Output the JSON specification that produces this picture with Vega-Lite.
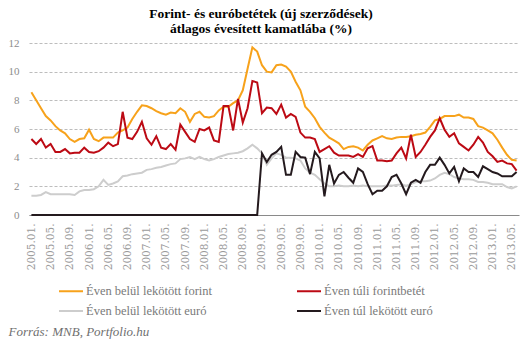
{
"$schema":"https://vega.github.io/schema/vega-lite/v6.json",
"width":490,"height":172,
"autosize":{"type":"none"},
"padding":{"left":29,"top":43,"right":12,"bottom":127},
"background":"white",
"title":{"text":["Forint- és euróbetétek  (új szerződések)","átlagos évesített  kamatlába (%)"],"font":"Liberation Serif","fontSize":13.5,"fontWeight":"bold","color":"#000000","anchor":"middle","dx":-13,"offset":2,"lineHeight":15},
"data":{"values":[
{"m":"2005.01.","s":"Éven belül lekötött forint","v":8.56},{"m":"2005.02.","s":"Éven belül lekötött forint","v":8.0},{"m":"2005.03.","s":"Éven belül lekötött forint","v":7.45},{"m":"2005.04.","s":"Éven belül lekötött forint","v":6.9},{"m":"2005.05.","s":"Éven belül lekötött forint","v":6.6},{"m":"2005.06.","s":"Éven belül lekötött forint","v":6.2},{"m":"2005.07.","s":"Éven belül lekötött forint","v":5.9},{"m":"2005.08.","s":"Éven belül lekötött forint","v":5.7},{"m":"2005.09.","s":"Éven belül lekötött forint","v":5.3},{"m":"2005.10.","s":"Éven belül lekötött forint","v":5.1},{"m":"2005.11.","s":"Éven belül lekötött forint","v":5.3},{"m":"2005.12.","s":"Éven belül lekötött forint","v":5.35},
{"m":"2006.01.","s":"Éven belül lekötött forint","v":5.95},{"m":"2006.02.","s":"Éven belül lekötött forint","v":5.3},{"m":"2006.03.","s":"Éven belül lekötött forint","v":5.15},{"m":"2006.04.","s":"Éven belül lekötött forint","v":5.4},{"m":"2006.05.","s":"Éven belül lekötött forint","v":5.4},{"m":"2006.06.","s":"Éven belül lekötött forint","v":5.4},{"m":"2006.07.","s":"Éven belül lekötött forint","v":5.75},{"m":"2006.08.","s":"Éven belül lekötött forint","v":5.9},{"m":"2006.09.","s":"Éven belül lekötött forint","v":6.1},{"m":"2006.10.","s":"Éven belül lekötött forint","v":6.7},{"m":"2006.11.","s":"Éven belül lekötött forint","v":7.2},{"m":"2006.12.","s":"Éven belül lekötött forint","v":7.65},
{"m":"2007.01.","s":"Éven belül lekötött forint","v":7.6},{"m":"2007.02.","s":"Éven belül lekötött forint","v":7.45},{"m":"2007.03.","s":"Éven belül lekötött forint","v":7.25},{"m":"2007.04.","s":"Éven belül lekötött forint","v":7.1},{"m":"2007.05.","s":"Éven belül lekötött forint","v":7.0},{"m":"2007.06.","s":"Éven belül lekötött forint","v":7.15},{"m":"2007.07.","s":"Éven belül lekötött forint","v":7.1},{"m":"2007.08.","s":"Éven belül lekötött forint","v":7.45},{"m":"2007.09.","s":"Éven belül lekötött forint","v":7.2},{"m":"2007.10.","s":"Éven belül lekötött forint","v":6.5},{"m":"2007.11.","s":"Éven belül lekötött forint","v":7.05},{"m":"2007.12.","s":"Éven belül lekötött forint","v":7.2},
{"m":"2008.01.","s":"Éven belül lekötött forint","v":6.85},{"m":"2008.02.","s":"Éven belül lekötött forint","v":6.8},{"m":"2008.03.","s":"Éven belül lekötött forint","v":6.9},{"m":"2008.04.","s":"Éven belül lekötött forint","v":7.3},{"m":"2008.05.","s":"Éven belül lekötött forint","v":7.55},{"m":"2008.06.","s":"Éven belül lekötött forint","v":7.55},{"m":"2008.07.","s":"Éven belül lekötött forint","v":7.8},{"m":"2008.08.","s":"Éven belül lekötött forint","v":8.0},{"m":"2008.09.","s":"Éven belül lekötött forint","v":8.7},{"m":"2008.10.","s":"Éven belül lekötött forint","v":10.2},{"m":"2008.11.","s":"Éven belül lekötött forint","v":11.7},{"m":"2008.12.","s":"Éven belül lekötött forint","v":11.4},
{"m":"2009.01.","s":"Éven belül lekötött forint","v":10.45},{"m":"2009.02.","s":"Éven belül lekötött forint","v":10.0},{"m":"2009.03.","s":"Éven belül lekötött forint","v":9.95},{"m":"2009.04.","s":"Éven belül lekötött forint","v":10.45},{"m":"2009.05.","s":"Éven belül lekötött forint","v":10.5},{"m":"2009.06.","s":"Éven belül lekötött forint","v":10.35},{"m":"2009.07.","s":"Éven belül lekötött forint","v":10.0},{"m":"2009.08.","s":"Éven belül lekötött forint","v":9.3},{"m":"2009.09.","s":"Éven belül lekötött forint","v":8.7},{"m":"2009.10.","s":"Éven belül lekötött forint","v":7.55},{"m":"2009.11.","s":"Éven belül lekötött forint","v":7.2},{"m":"2009.12.","s":"Éven belül lekötött forint","v":6.75},
{"m":"2010.01.","s":"Éven belül lekötött forint","v":6.15},{"m":"2010.02.","s":"Éven belül lekötött forint","v":5.75},{"m":"2010.03.","s":"Éven belül lekötött forint","v":5.4},{"m":"2010.04.","s":"Éven belül lekötött forint","v":5.2},{"m":"2010.05.","s":"Éven belül lekötött forint","v":5.0},{"m":"2010.06.","s":"Éven belül lekötött forint","v":4.6},{"m":"2010.07.","s":"Éven belül lekötött forint","v":4.75},{"m":"2010.08.","s":"Éven belül lekötött forint","v":4.8},{"m":"2010.09.","s":"Éven belül lekötött forint","v":4.7},{"m":"2010.10.","s":"Éven belül lekötött forint","v":4.5},{"m":"2010.11.","s":"Éven belül lekötött forint","v":4.9},{"m":"2010.12.","s":"Éven belül lekötött forint","v":5.2},
{"m":"2011.01.","s":"Éven belül lekötött forint","v":5.35},{"m":"2011.02.","s":"Éven belül lekötött forint","v":5.5},{"m":"2011.03.","s":"Éven belül lekötött forint","v":5.35},{"m":"2011.04.","s":"Éven belül lekötött forint","v":5.3},{"m":"2011.05.","s":"Éven belül lekötött forint","v":5.4},{"m":"2011.06.","s":"Éven belül lekötött forint","v":5.45},{"m":"2011.07.","s":"Éven belül lekötött forint","v":5.45},{"m":"2011.08.","s":"Éven belül lekötött forint","v":5.5},{"m":"2011.09.","s":"Éven belül lekötött forint","v":5.6},{"m":"2011.10.","s":"Éven belül lekötött forint","v":5.65},{"m":"2011.11.","s":"Éven belül lekötött forint","v":5.75},{"m":"2011.12.","s":"Éven belül lekötött forint","v":6.15},
{"m":"2012.01.","s":"Éven belül lekötött forint","v":6.6},{"m":"2012.02.","s":"Éven belül lekötött forint","v":6.7},{"m":"2012.03.","s":"Éven belül lekötött forint","v":6.9},{"m":"2012.04.","s":"Éven belül lekötött forint","v":6.9},{"m":"2012.05.","s":"Éven belül lekötött forint","v":6.9},{"m":"2012.06.","s":"Éven belül lekötött forint","v":7.0},{"m":"2012.07.","s":"Éven belül lekötött forint","v":6.8},{"m":"2012.08.","s":"Éven belül lekötött forint","v":6.8},{"m":"2012.09.","s":"Éven belül lekötött forint","v":6.7},{"m":"2012.10.","s":"Éven belül lekötött forint","v":6.2},{"m":"2012.11.","s":"Éven belül lekötött forint","v":6.1},{"m":"2012.12.","s":"Éven belül lekötött forint","v":5.9},
{"m":"2013.01.","s":"Éven belül lekötött forint","v":5.7},{"m":"2013.02.","s":"Éven belül lekötött forint","v":5.25},{"m":"2013.03.","s":"Éven belül lekötött forint","v":4.7},{"m":"2013.04.","s":"Éven belül lekötött forint","v":4.2},{"m":"2013.05.","s":"Éven belül lekötött forint","v":3.85},{"m":"2013.06.","s":"Éven belül lekötött forint","v":3.8},
{"m":"2005.01.","s":"Éven túli forintbetét","v":5.3},{"m":"2005.02.","s":"Éven túli forintbetét","v":4.95},{"m":"2005.03.","s":"Éven túli forintbetét","v":5.3},{"m":"2005.04.","s":"Éven túli forintbetét","v":4.7},{"m":"2005.05.","s":"Éven túli forintbetét","v":4.95},{"m":"2005.06.","s":"Éven túli forintbetét","v":4.4},{"m":"2005.07.","s":"Éven túli forintbetét","v":4.4},{"m":"2005.08.","s":"Éven túli forintbetét","v":4.6},{"m":"2005.09.","s":"Éven túli forintbetét","v":4.3},{"m":"2005.10.","s":"Éven túli forintbetét","v":4.35},{"m":"2005.11.","s":"Éven túli forintbetét","v":4.35},{"m":"2005.12.","s":"Éven túli forintbetét","v":4.7},
{"m":"2006.01.","s":"Éven túli forintbetét","v":4.4},{"m":"2006.02.","s":"Éven túli forintbetét","v":4.35},{"m":"2006.03.","s":"Éven túli forintbetét","v":4.45},{"m":"2006.04.","s":"Éven túli forintbetét","v":4.7},{"m":"2006.05.","s":"Éven túli forintbetét","v":5.05},{"m":"2006.06.","s":"Éven túli forintbetét","v":4.8},{"m":"2006.07.","s":"Éven túli forintbetét","v":4.95},{"m":"2006.08.","s":"Éven túli forintbetét","v":7.2},{"m":"2006.09.","s":"Éven túli forintbetét","v":5.4},{"m":"2006.10.","s":"Éven túli forintbetét","v":5.3},{"m":"2006.11.","s":"Éven túli forintbetét","v":5.8},{"m":"2006.12.","s":"Éven túli forintbetét","v":6.5},
{"m":"2007.01.","s":"Éven túli forintbetét","v":5.35},{"m":"2007.02.","s":"Éven túli forintbetét","v":4.9},{"m":"2007.03.","s":"Éven túli forintbetét","v":5.5},{"m":"2007.04.","s":"Éven túli forintbetét","v":4.7},{"m":"2007.05.","s":"Éven túli forintbetét","v":4.6},{"m":"2007.06.","s":"Éven túli forintbetét","v":4.95},{"m":"2007.07.","s":"Éven túli forintbetét","v":4.55},{"m":"2007.08.","s":"Éven túli forintbetét","v":6.3},{"m":"2007.09.","s":"Éven túli forintbetét","v":5.8},{"m":"2007.10.","s":"Éven túli forintbetét","v":5.3},{"m":"2007.11.","s":"Éven túli forintbetét","v":5.1},{"m":"2007.12.","s":"Éven túli forintbetét","v":6.0},
{"m":"2008.01.","s":"Éven túli forintbetét","v":5.9},{"m":"2008.02.","s":"Éven túli forintbetét","v":6.1},{"m":"2008.03.","s":"Éven túli forintbetét","v":5.2},{"m":"2008.04.","s":"Éven túli forintbetét","v":5.1},{"m":"2008.05.","s":"Éven túli forintbetét","v":7.6},{"m":"2008.06.","s":"Éven túli forintbetét","v":7.6},{"m":"2008.07.","s":"Éven túli forintbetét","v":5.9},{"m":"2008.08.","s":"Éven túli forintbetét","v":8.1},{"m":"2008.09.","s":"Éven túli forintbetét","v":6.45},{"m":"2008.10.","s":"Éven túli forintbetét","v":7.45},{"m":"2008.11.","s":"Éven túli forintbetét","v":9.35},{"m":"2008.12.","s":"Éven túli forintbetét","v":9.25},
{"m":"2009.01.","s":"Éven túli forintbetét","v":7.1},{"m":"2009.02.","s":"Éven túli forintbetét","v":7.5},{"m":"2009.03.","s":"Éven túli forintbetét","v":7.45},{"m":"2009.04.","s":"Éven túli forintbetét","v":7.05},{"m":"2009.05.","s":"Éven túli forintbetét","v":7.7},{"m":"2009.06.","s":"Éven túli forintbetét","v":6.8},{"m":"2009.07.","s":"Éven túli forintbetét","v":7.05},{"m":"2009.08.","s":"Éven túli forintbetét","v":6.85},{"m":"2009.09.","s":"Éven túli forintbetét","v":5.75},{"m":"2009.10.","s":"Éven túli forintbetét","v":5.4},{"m":"2009.11.","s":"Éven túli forintbetét","v":5.4},{"m":"2009.12.","s":"Éven túli forintbetét","v":5.3},
{"m":"2010.01.","s":"Éven túli forintbetét","v":4.4},{"m":"2010.02.","s":"Éven túli forintbetét","v":4.6},{"m":"2010.03.","s":"Éven túli forintbetét","v":4.8},{"m":"2010.04.","s":"Éven túli forintbetét","v":4.35},{"m":"2010.05.","s":"Éven túli forintbetét","v":4.15},{"m":"2010.06.","s":"Éven túli forintbetét","v":4.15},{"m":"2010.07.","s":"Éven túli forintbetét","v":4.15},{"m":"2010.08.","s":"Éven túli forintbetét","v":4.05},{"m":"2010.09.","s":"Éven túli forintbetét","v":4.25},{"m":"2010.10.","s":"Éven túli forintbetét","v":4.05},{"m":"2010.11.","s":"Éven túli forintbetét","v":4.65},{"m":"2010.12.","s":"Éven túli forintbetét","v":4.8},
{"m":"2011.01.","s":"Éven túli forintbetét","v":3.8},{"m":"2011.02.","s":"Éven túli forintbetét","v":3.8},{"m":"2011.03.","s":"Éven túli forintbetét","v":3.75},{"m":"2011.04.","s":"Éven túli forintbetét","v":3.8},{"m":"2011.05.","s":"Éven túli forintbetét","v":4.3},{"m":"2011.06.","s":"Éven túli forintbetét","v":4.7},{"m":"2011.07.","s":"Éven túli forintbetét","v":3.95},{"m":"2011.08.","s":"Éven túli forintbetét","v":5.6},{"m":"2011.09.","s":"Éven túli forintbetét","v":4.05},{"m":"2011.10.","s":"Éven túli forintbetét","v":4.4},{"m":"2011.11.","s":"Éven túli forintbetét","v":4.9},{"m":"2011.12.","s":"Éven túli forintbetét","v":5.45},
{"m":"2012.01.","s":"Éven túli forintbetét","v":5.9},{"m":"2012.02.","s":"Éven túli forintbetét","v":6.75},{"m":"2012.03.","s":"Éven túli forintbetét","v":5.95},{"m":"2012.04.","s":"Éven túli forintbetét","v":5.45},{"m":"2012.05.","s":"Éven túli forintbetét","v":5.7},{"m":"2012.06.","s":"Éven túli forintbetét","v":5.0},{"m":"2012.07.","s":"Éven túli forintbetét","v":4.75},{"m":"2012.08.","s":"Éven túli forintbetét","v":4.5},{"m":"2012.09.","s":"Éven túli forintbetét","v":4.9},{"m":"2012.10.","s":"Éven túli forintbetét","v":5.45},{"m":"2012.11.","s":"Éven túli forintbetét","v":5.05},{"m":"2012.12.","s":"Éven túli forintbetét","v":4.4},
{"m":"2013.01.","s":"Éven túli forintbetét","v":4.1},{"m":"2013.02.","s":"Éven túli forintbetét","v":3.7},{"m":"2013.03.","s":"Éven túli forintbetét","v":3.8},{"m":"2013.04.","s":"Éven túli forintbetét","v":3.6},{"m":"2013.05.","s":"Éven túli forintbetét","v":3.55},{"m":"2013.06.","s":"Éven túli forintbetét","v":3.1},
{"m":"2005.01.","s":"Éven belül lekötött euró","v":1.35},{"m":"2005.02.","s":"Éven belül lekötött euró","v":1.35},{"m":"2005.03.","s":"Éven belül lekötött euró","v":1.4},{"m":"2005.04.","s":"Éven belül lekötött euró","v":1.6},{"m":"2005.05.","s":"Éven belül lekötött euró","v":1.45},{"m":"2005.06.","s":"Éven belül lekötött euró","v":1.45},{"m":"2005.07.","s":"Éven belül lekötött euró","v":1.45},{"m":"2005.08.","s":"Éven belül lekötött euró","v":1.45},{"m":"2005.09.","s":"Éven belül lekötött euró","v":1.45},{"m":"2005.10.","s":"Éven belül lekötött euró","v":1.4},{"m":"2005.11.","s":"Éven belül lekötött euró","v":1.65},{"m":"2005.12.","s":"Éven belül lekötött euró","v":1.75},
{"m":"2006.01.","s":"Éven belül lekötött euró","v":1.75},{"m":"2006.02.","s":"Éven belül lekötött euró","v":1.8},{"m":"2006.03.","s":"Éven belül lekötött euró","v":2.0},{"m":"2006.04.","s":"Éven belül lekötött euró","v":2.45},{"m":"2006.05.","s":"Éven belül lekötött euró","v":2.1},{"m":"2006.06.","s":"Éven belül lekötött euró","v":2.2},{"m":"2006.07.","s":"Éven belül lekötött euró","v":2.35},{"m":"2006.08.","s":"Éven belül lekötött euró","v":2.7},{"m":"2006.09.","s":"Éven belül lekötött euró","v":2.75},{"m":"2006.10.","s":"Éven belül lekötött euró","v":2.85},{"m":"2006.11.","s":"Éven belül lekötött euró","v":2.9},{"m":"2006.12.","s":"Éven belül lekötött euró","v":2.95},
{"m":"2007.01.","s":"Éven belül lekötött euró","v":3.15},{"m":"2007.02.","s":"Éven belül lekötött euró","v":3.2},{"m":"2007.03.","s":"Éven belül lekötött euró","v":3.3},{"m":"2007.04.","s":"Éven belül lekötött euró","v":3.35},{"m":"2007.05.","s":"Éven belül lekötött euró","v":3.45},{"m":"2007.06.","s":"Éven belül lekötött euró","v":3.55},{"m":"2007.07.","s":"Éven belül lekötött euró","v":3.6},{"m":"2007.08.","s":"Éven belül lekötött euró","v":3.9},{"m":"2007.09.","s":"Éven belül lekötött euró","v":3.95},{"m":"2007.10.","s":"Éven belül lekötött euró","v":4.05},{"m":"2007.11.","s":"Éven belül lekötött euró","v":3.9},{"m":"2007.12.","s":"Éven belül lekötött euró","v":4.05},
{"m":"2008.01.","s":"Éven belül lekötött euró","v":3.9},{"m":"2008.02.","s":"Éven belül lekötött euró","v":3.8},{"m":"2008.03.","s":"Éven belül lekötött euró","v":3.9},{"m":"2008.04.","s":"Éven belül lekötött euró","v":4.05},{"m":"2008.05.","s":"Éven belül lekötött euró","v":4.15},{"m":"2008.06.","s":"Éven belül lekötött euró","v":4.25},{"m":"2008.07.","s":"Éven belül lekötött euró","v":4.3},{"m":"2008.08.","s":"Éven belül lekötött euró","v":4.35},{"m":"2008.09.","s":"Éven belül lekötött euró","v":4.45},{"m":"2008.10.","s":"Éven belül lekötött euró","v":4.65},{"m":"2008.11.","s":"Éven belül lekötött euró","v":4.9},{"m":"2008.12.","s":"Éven belül lekötött euró","v":4.65},
{"m":"2009.01.","s":"Éven belül lekötött euró","v":4.3},{"m":"2009.02.","s":"Éven belül lekötött euró","v":3.5},{"m":"2009.03.","s":"Éven belül lekötött euró","v":3.95},{"m":"2009.04.","s":"Éven belül lekötött euró","v":4.3},{"m":"2009.05.","s":"Éven belül lekötött euró","v":4.2},{"m":"2009.06.","s":"Éven belül lekötött euró","v":4.0},{"m":"2009.07.","s":"Éven belül lekötött euró","v":4.0},{"m":"2009.08.","s":"Éven belül lekötött euró","v":3.95},{"m":"2009.09.","s":"Éven belül lekötött euró","v":3.8},{"m":"2009.10.","s":"Éven belül lekötött euró","v":3.25},{"m":"2009.11.","s":"Éven belül lekötött euró","v":2.95},{"m":"2009.12.","s":"Éven belül lekötött euró","v":2.8},
{"m":"2010.01.","s":"Éven belül lekötött euró","v":2.5},{"m":"2010.02.","s":"Éven belül lekötött euró","v":2.2},{"m":"2010.03.","s":"Éven belül lekötött euró","v":2.0},{"m":"2010.04.","s":"Éven belül lekötött euró","v":2.0},{"m":"2010.05.","s":"Éven belül lekötött euró","v":2.05},{"m":"2010.06.","s":"Éven belül lekötött euró","v":2.0},{"m":"2010.07.","s":"Éven belül lekötött euró","v":2.0},{"m":"2010.08.","s":"Éven belül lekötött euró","v":2.05},{"m":"2010.09.","s":"Éven belül lekötött euró","v":2.0},{"m":"2010.10.","s":"Éven belül lekötött euró","v":2.05},{"m":"2010.11.","s":"Éven belül lekötött euró","v":2.0},{"m":"2010.12.","s":"Éven belül lekötött euró","v":2.0},
{"m":"2011.01.","s":"Éven belül lekötött euró","v":2.0},{"m":"2011.02.","s":"Éven belül lekötött euró","v":2.0},{"m":"2011.03.","s":"Éven belül lekötött euró","v":2.05},{"m":"2011.04.","s":"Éven belül lekötött euró","v":2.05},{"m":"2011.05.","s":"Éven belül lekötött euró","v":2.1},{"m":"2011.06.","s":"Éven belül lekötött euró","v":2.15},{"m":"2011.07.","s":"Éven belül lekötött euró","v":2.05},{"m":"2011.08.","s":"Éven belül lekötött euró","v":2.15},{"m":"2011.09.","s":"Éven belül lekötött euró","v":2.3},{"m":"2011.10.","s":"Éven belül lekötött euró","v":2.35},{"m":"2011.11.","s":"Éven belül lekötött euró","v":2.35},{"m":"2011.12.","s":"Éven belül lekötött euró","v":2.4},
{"m":"2012.01.","s":"Éven belül lekötött euró","v":2.55},{"m":"2012.02.","s":"Éven belül lekötött euró","v":2.8},{"m":"2012.03.","s":"Éven belül lekötött euró","v":2.95},{"m":"2012.04.","s":"Éven belül lekötött euró","v":2.85},{"m":"2012.05.","s":"Éven belül lekötött euró","v":2.65},{"m":"2012.06.","s":"Éven belül lekötött euró","v":2.55},{"m":"2012.07.","s":"Éven belül lekötött euró","v":2.5},{"m":"2012.08.","s":"Éven belül lekötött euró","v":2.5},{"m":"2012.09.","s":"Éven belül lekötött euró","v":2.45},{"m":"2012.10.","s":"Éven belül lekötött euró","v":2.3},{"m":"2012.11.","s":"Éven belül lekötött euró","v":2.3},{"m":"2012.12.","s":"Éven belül lekötött euró","v":2.25},
{"m":"2013.01.","s":"Éven belül lekötött euró","v":2.15},{"m":"2013.02.","s":"Éven belül lekötött euró","v":2.15},{"m":"2013.03.","s":"Éven belül lekötött euró","v":2.15},{"m":"2013.04.","s":"Éven belül lekötött euró","v":1.95},{"m":"2013.05.","s":"Éven belül lekötött euró","v":1.85},{"m":"2013.06.","s":"Éven belül lekötött euró","v":2.0},
{"m":"2005.01.","s":"Éven túl lekötött euró","v":0},{"m":"2005.02.","s":"Éven túl lekötött euró","v":0},{"m":"2005.03.","s":"Éven túl lekötött euró","v":0},{"m":"2005.04.","s":"Éven túl lekötött euró","v":0},{"m":"2005.05.","s":"Éven túl lekötött euró","v":0},{"m":"2005.06.","s":"Éven túl lekötött euró","v":0},{"m":"2005.07.","s":"Éven túl lekötött euró","v":0},{"m":"2005.08.","s":"Éven túl lekötött euró","v":0},{"m":"2005.09.","s":"Éven túl lekötött euró","v":0},{"m":"2005.10.","s":"Éven túl lekötött euró","v":0},{"m":"2005.11.","s":"Éven túl lekötött euró","v":0},{"m":"2005.12.","s":"Éven túl lekötött euró","v":0},
{"m":"2006.01.","s":"Éven túl lekötött euró","v":0},{"m":"2006.02.","s":"Éven túl lekötött euró","v":0},{"m":"2006.03.","s":"Éven túl lekötött euró","v":0},{"m":"2006.04.","s":"Éven túl lekötött euró","v":0},{"m":"2006.05.","s":"Éven túl lekötött euró","v":0},{"m":"2006.06.","s":"Éven túl lekötött euró","v":0},{"m":"2006.07.","s":"Éven túl lekötött euró","v":0},{"m":"2006.08.","s":"Éven túl lekötött euró","v":0},{"m":"2006.09.","s":"Éven túl lekötött euró","v":0},{"m":"2006.10.","s":"Éven túl lekötött euró","v":0},{"m":"2006.11.","s":"Éven túl lekötött euró","v":0},{"m":"2006.12.","s":"Éven túl lekötött euró","v":0},
{"m":"2007.01.","s":"Éven túl lekötött euró","v":0},{"m":"2007.02.","s":"Éven túl lekötött euró","v":0},{"m":"2007.03.","s":"Éven túl lekötött euró","v":0},{"m":"2007.04.","s":"Éven túl lekötött euró","v":0},{"m":"2007.05.","s":"Éven túl lekötött euró","v":0},{"m":"2007.06.","s":"Éven túl lekötött euró","v":0},{"m":"2007.07.","s":"Éven túl lekötött euró","v":0},{"m":"2007.08.","s":"Éven túl lekötött euró","v":0},{"m":"2007.09.","s":"Éven túl lekötött euró","v":0},{"m":"2007.10.","s":"Éven túl lekötött euró","v":0},{"m":"2007.11.","s":"Éven túl lekötött euró","v":0},{"m":"2007.12.","s":"Éven túl lekötött euró","v":0},
{"m":"2008.01.","s":"Éven túl lekötött euró","v":0},{"m":"2008.02.","s":"Éven túl lekötött euró","v":0},{"m":"2008.03.","s":"Éven túl lekötött euró","v":0},{"m":"2008.04.","s":"Éven túl lekötött euró","v":0},{"m":"2008.05.","s":"Éven túl lekötött euró","v":0},{"m":"2008.06.","s":"Éven túl lekötött euró","v":0},{"m":"2008.07.","s":"Éven túl lekötött euró","v":0},{"m":"2008.08.","s":"Éven túl lekötött euró","v":0},{"m":"2008.09.","s":"Éven túl lekötött euró","v":0},{"m":"2008.10.","s":"Éven túl lekötött euró","v":0},{"m":"2008.11.","s":"Éven túl lekötött euró","v":0},{"m":"2008.12.","s":"Éven túl lekötött euró","v":0},
{"m":"2009.01.","s":"Éven túl lekötött euró","v":4.3},{"m":"2009.02.","s":"Éven túl lekötött euró","v":3.7},{"m":"2009.03.","s":"Éven túl lekötött euró","v":4.2},{"m":"2009.04.","s":"Éven túl lekötött euró","v":4.4},{"m":"2009.05.","s":"Éven túl lekötött euró","v":4.75},{"m":"2009.06.","s":"Éven túl lekötött euró","v":2.8},{"m":"2009.07.","s":"Éven túl lekötött euró","v":2.8},{"m":"2009.08.","s":"Éven túl lekötött euró","v":4.4},{"m":"2009.09.","s":"Éven túl lekötött euró","v":4.05},{"m":"2009.10.","s":"Éven túl lekötött euró","v":4.0},{"m":"2009.11.","s":"Éven túl lekötött euró","v":2.85},{"m":"2009.12.","s":"Éven túl lekötött euró","v":4.4},
{"m":"2010.01.","s":"Éven túl lekötött euró","v":3.95},{"m":"2010.02.","s":"Éven túl lekötött euró","v":1.3},{"m":"2010.03.","s":"Éven túl lekötött euró","v":3.5},{"m":"2010.04.","s":"Éven túl lekötött euró","v":2.2},{"m":"2010.05.","s":"Éven túl lekötött euró","v":2.8},{"m":"2010.06.","s":"Éven túl lekötött euró","v":3.0},{"m":"2010.07.","s":"Éven túl lekötött euró","v":2.6},{"m":"2010.08.","s":"Éven túl lekötött euró","v":2.25},{"m":"2010.09.","s":"Éven túl lekötött euró","v":3.25},{"m":"2010.10.","s":"Éven túl lekötött euró","v":3.0},{"m":"2010.11.","s":"Éven túl lekötött euró","v":2.15},{"m":"2010.12.","s":"Éven túl lekötött euró","v":1.45},
{"m":"2011.01.","s":"Éven túl lekötött euró","v":1.7},{"m":"2011.02.","s":"Éven túl lekötött euró","v":1.7},{"m":"2011.03.","s":"Éven túl lekötött euró","v":2.0},{"m":"2011.04.","s":"Éven túl lekötött euró","v":2.65},{"m":"2011.05.","s":"Éven túl lekötött euró","v":2.8},{"m":"2011.06.","s":"Éven túl lekötött euró","v":2.2},{"m":"2011.07.","s":"Éven túl lekötött euró","v":1.45},{"m":"2011.08.","s":"Éven túl lekötött euró","v":2.25},{"m":"2011.09.","s":"Éven túl lekötött euró","v":2.45},{"m":"2011.10.","s":"Éven túl lekötött euró","v":2.25},{"m":"2011.11.","s":"Éven túl lekötött euró","v":3.0},{"m":"2011.12.","s":"Éven túl lekötött euró","v":3.5},
{"m":"2012.01.","s":"Éven túl lekötött euró","v":3.5},{"m":"2012.02.","s":"Éven túl lekötött euró","v":4.0},{"m":"2012.03.","s":"Éven túl lekötött euró","v":3.5},{"m":"2012.04.","s":"Éven túl lekötött euró","v":2.9},{"m":"2012.05.","s":"Éven túl lekötött euró","v":3.35},{"m":"2012.06.","s":"Éven túl lekötött euró","v":2.35},{"m":"2012.07.","s":"Éven túl lekötött euró","v":3.25},{"m":"2012.08.","s":"Éven túl lekötött euró","v":3.0},{"m":"2012.09.","s":"Éven túl lekötött euró","v":3.0},{"m":"2012.10.","s":"Éven túl lekötött euró","v":2.65},{"m":"2012.11.","s":"Éven túl lekötött euró","v":3.4},{"m":"2012.12.","s":"Éven túl lekötött euró","v":3.2},
{"m":"2013.01.","s":"Éven túl lekötött euró","v":3.0},{"m":"2013.02.","s":"Éven túl lekötött euró","v":2.9},{"m":"2013.03.","s":"Éven túl lekötött euró","v":2.7},{"m":"2013.04.","s":"Éven túl lekötött euró","v":2.7},{"m":"2013.05.","s":"Éven túl lekötött euró","v":2.7},{"m":"2013.06.","s":"Éven túl lekötött euró","v":3.0}
]},
"mark":{"type":"line","strokeWidth":2,"interpolate":"linear"},
"encoding":{
"x":{"field":"m","type":"ordinal","sort":null,"scale":{"type":"point","padding":0.5},
"axis":{"values":["2005.01.","2005.05.","2005.09.","2006.01.","2006.05.","2006.09.","2007.01.","2007.05.","2007.09.","2008.01.","2008.05.","2008.09.","2009.01.","2009.05.","2009.09.","2010.01.","2010.05.","2010.09.","2011.01.","2011.05.","2011.09.","2012.01.","2012.05.","2012.09.","2013.01.","2013.05."],
"labelAngle":270,"labelAlign":"right","labelBaseline":"middle","labelFont":"DejaVu Serif","labelFontSize":10.5,"labelColor":"#9a9a9a","labelPadding":8,"ticks":false,"domainColor":"#8a8a8a","domainWidth":1.2,"grid":false,
"title":"Forrás: MNB, Portfolio.hu","titleFont":"Liberation Serif","titleFontStyle":"italic","titleFontWeight":"normal","titleFontSize":13,"titleColor":"#707070","titleX":-21,"titleY":116,"titleAlign":"left","titleBaseline":"middle","titleAngle":0}},
"y":{"field":"v","type":"quantitative","scale":{"domain":[0,12],"nice":false,"zero":true},
"axis":{"values":[0,2,4,6,8,10,12],"title":null,"domain":false,"ticks":false,"labelFont":"Liberation Serif","labelFontSize":11,"labelColor":"#8c8c8c","labelPadding":10,"gridColor":"#bdbdbd","gridDash":[3,2],"gridWidth":1}},
"color":{"field":"s","type":"nominal","sort":null,
"scale":{"domain":["Éven belül lekötött forint","Éven belül lekötött euró","Éven túli forintbetét","Éven túl lekötött euró"],"range":["#F7A21B","#CDCDCD","#BC0A14","#241A1E"]},
"legend":{"title":null,"orient":"none","legendX":29,"legendY":235,"columns":2,"columnPadding":80,"rowPadding":-15,"symbolType":"stroke","symbolSize":576,"symbolStrokeWidth":2,"labelFont":"Liberation Serif","labelFontSize":12.5,"labelColor":"#7a7a7a","labelOffset":2,"padding":0}}
},
"config":{"view":{"stroke":null}}
}
